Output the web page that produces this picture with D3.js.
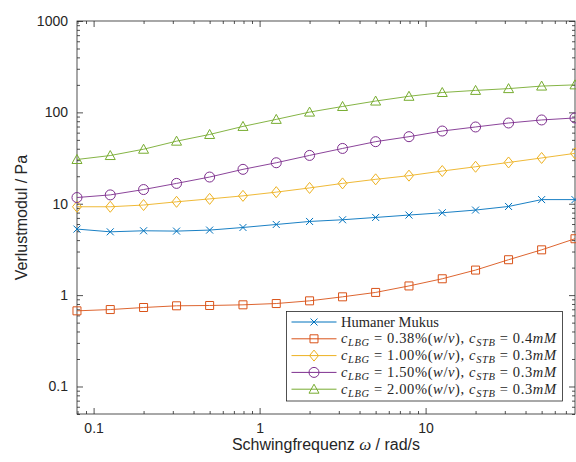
<!DOCTYPE html>
<html>
<head>
<meta charset="utf-8">
<script src="https://cdn.jsdelivr.net/npm/d3@7"></script>
<style>
  body { margin: 0; background: #fff; }
  text { fill: #262626; }
</style>
</head>
<body>
<div id="chart"></div>
<script>
// Schwingfrequenz (rad/s)
const freq = [0.0794, 0.126, 0.2, 0.316, 0.5, 0.794, 1.26, 2, 3.16, 5, 7.94, 12.6, 20, 31.6, 50, 79.4];

// Verlustmodul (Pa)
const humanerMukus = [5.28, 4.93, 5.06, 5.02, 5.15, 5.5, 5.93, 6.4, 6.68, 7.08, 7.52, 7.97, 8.53, 9.34, 11.1, 11.1];
const lbg038 = [0.673, 0.695, 0.732, 0.764, 0.77, 0.783, 0.809, 0.866, 0.958, 1.07, 1.26, 1.51, 1.88, 2.44, 3.13, 4.14];
const lbg100 = [9.27, 9.27, 9.68, 10.5, 11.3, 12.2, 13.4, 14.9, 16.7, 18.5, 20.3, 22.8, 25.4, 28.3, 31.7, 35.6];
const lbg150 = [11.7, 12.5, 14.3, 16.7, 19.6, 23.8, 28.1, 33.8, 40.3, 47.8, 54.2, 62.5, 69.2, 76.5, 82.6, 86.9];
const lbg200 = [30.5, 33.7, 39.5, 48.4, 57.3, 70.2, 83.8, 100.7, 116, 133, 150, 165, 174, 182, 194, 200];

// legend parts
const lbgConc = ["0.38", "1.00", "1.50", "2.00"];
const stbConc = ["0.4", "0.3", "0.3", "0.3"];

const xTicks = [0.1, 1, 10];
const yTicks = [0.1, 1, 10, 100, 1000];

const series = [
  { name: "Humaner Mukus", values: humanerMukus, color: "#0072BD", marker: "x" },
  { name: "lbg", values: lbg038, color: "#D95319", marker: "square", conc: 0 },
  { name: "lbg", values: lbg100, color: "#EDB120", marker: "diamond", conc: 1 },
  { name: "lbg", values: lbg150, color: "#7E2F8E", marker: "circle", conc: 2 },
  { name: "lbg", values: lbg200, color: "#77AC30", marker: "triangle", conc: 3 }
];

var w = 576;
var h = 462;
var margin = { top: 21, right: 1, bottom: 48, left: 77 };
var width = w - margin.left - margin.right;
var height = h - margin.top - margin.bottom;

var svg = d3.select("#chart").append("svg")
  .attr("width", w)
  .attr("height", h)
  .style("font-family", "'Liberation Sans', Arial, sans-serif");

var chart = svg.append("g")
  .attr("transform", "translate(" + margin.left + "," + margin.top + ")");

var x = d3.scaleLog()
  .domain([Math.pow(10, -1.1), Math.pow(10, 1.9)])
  .range([0, width]);

var y = d3.scaleLog()
  .domain([0.05, 1000])
  .range([height, 0]);

// minor ticks (2..9 of every decade inside the domain)
function minorTicks(scale) {
  const d = scale.domain();
  const out = [];
  for (let e = -3; e <= 4; e++) {
    for (let m = 2; m <= 9; m++) {
      const v = m * Math.pow(10, e);
      if (v >= d[0] && v <= d[1]) out.push(v);
    }
  }
  return out;
}

///////////////////////////// Axes

const axisColor = "#262626";

function styleAxis(g) {
  g.select(".domain").remove();
  g.selectAll("line").attr("stroke", axisColor).attr("stroke-width", 0.8);
  g.selectAll("text").style("font-size", "14px").attr("fill", axisColor);
}

chart.append("g")
  .attr("transform", "translate(0," + height + ")")
  .call(d3.axisBottom(x).tickValues(xTicks).tickSize(-6).tickPadding(9)
    .tickFormat(d => d3.format("~g")(d)))
  .call(styleAxis);
chart.append("g")
  .attr("transform", "translate(0," + height + ")")
  .call(d3.axisBottom(x).tickValues(minorTicks(x)).tickSize(-3).tickFormat(""))
  .call(styleAxis);
chart.append("g")
  .call(d3.axisTop(x).tickValues(xTicks).tickSize(-6).tickFormat(""))
  .call(styleAxis);
chart.append("g")
  .call(d3.axisTop(x).tickValues(minorTicks(x)).tickSize(-3).tickFormat(""))
  .call(styleAxis);

chart.append("g")
  .call(d3.axisLeft(y).tickValues(yTicks).tickSize(-6).tickPadding(9)
    .tickFormat(d => d3.format("~g")(d)))
  .call(styleAxis);
chart.append("g")
  .call(d3.axisLeft(y).tickValues(minorTicks(y)).tickSize(-3).tickFormat(""))
  .call(styleAxis);
chart.append("g")
  .attr("transform", "translate(" + width + ",0)")
  .call(d3.axisRight(y).tickValues(yTicks).tickSize(-6).tickFormat(""))
  .call(styleAxis);
chart.append("g")
  .attr("transform", "translate(" + width + ",0)")
  .call(d3.axisRight(y).tickValues(minorTicks(y)).tickSize(-3).tickFormat(""))
  .call(styleAxis);

// box
chart.append("rect")
  .attr("x", 0).attr("y", 0)
  .attr("width", width).attr("height", height)
  .attr("fill", "none")
  .attr("stroke", axisColor)
  .attr("stroke-width", 0.8);

///////////////////////////// Markers

function markerPath(type) {
  switch (type) {
    case "x": return "M-3.5,-3.5L3.5,3.5M-3.5,3.5L3.5,-3.5";
    case "square": return "M-4,-4H4V4H-4Z";
    case "diamond": return "M0,-5.5L4.5,0L0,5.5L-4.5,0Z";
    case "circle": return "M5,0A5,5 0 1,1 -5,0A5,5 0 1,1 5,0Z";
    case "triangle": return "M0,-5L5,4H-5Z";
  }
}

var line = d3.line()
  .x((d, i) => x(freq[i]))
  .y(d => y(d));

series.forEach(s => {
  chart.append("path")
    .datum(s.values)
    .attr("fill", "none")
    .attr("stroke", s.color)
    .attr("stroke-width", 0.9)
    .attr("d", line);

  chart.selectAll(null)
    .data(s.values)
    .enter().append("path")
    .attr("transform", (d, i) => "translate(" + x(freq[i]) + "," + y(d) + ")")
    .attr("d", markerPath(s.marker))
    .attr("fill", "none")
    .attr("stroke", s.color)
    .attr("stroke-width", 1);
});

///////////////////////////// Axis titles

svg.append("text")
  .attr("transform", "translate(27," + (margin.top + height / 2) + ") rotate(-90)")
  .attr("text-anchor", "middle")
  .style("font-size", "16px")
  .text("Verlustmodul / Pa");

var xTitle = svg.append("text")
  .attr("x", margin.left + width / 2)
  .attr("y", 450)
  .attr("text-anchor", "middle")
  .style("font-size", "16px");
xTitle.append("tspan").text("Schwingfrequenz ");
xTitle.append("tspan")
  .style("font-family", "'Liberation Serif', serif")
  .style("font-style", "italic")
  .style("font-size", "17px")
  .text("ω");
xTitle.append("tspan").text(" / rad/s");

///////////////////////////// Legend

var lx = 286.5, ly = 311.5, lw = 276, lh = 89.5;
var legend = svg.append("g");
legend.append("rect")
  .attr("x", lx).attr("y", ly)
  .attr("width", lw).attr("height", lh)
  .attr("fill", "#fff")
  .attr("stroke", axisColor)
  .attr("stroke-width", 0.8);

series.forEach((s, i) => {
  const cy = 322 + i * 16.8;
  legend.append("line")
    .attr("x1", 291.5).attr("x2", 336.5)
    .attr("y1", cy).attr("y2", cy)
    .attr("stroke", s.color).attr("stroke-width", 1);
  legend.append("path")
    .attr("transform", "translate(314," + cy + ")")
    .attr("d", markerPath(s.marker))
    .attr("fill", "none")
    .attr("stroke", s.color)
    .attr("stroke-width", 1);

  const t = legend.append("text")
    .attr("x", 341)
    .attr("y", cy + 4.5)
    .style("font-family", "'Liberation Serif', 'DejaVu Serif', serif")
    .style("font-size", "14.5px");

  if (s.marker === "x") {
    t.text(s.name);
    return;
  }
  t.attr("textLength", 215).attr("lengthAdjust", "spacing");
  const it = (txt) => t.append("tspan").style("font-style", "italic").text(txt);
  const sub = (txt) => t.append("tspan").attr("dy", 3).style("font-style", "italic").style("font-size", "10.5px").text(txt);
  const rm = (txt, dy) => t.append("tspan").attr("dy", dy || 0).text(txt);

  it("c"); sub("LBG");
  rm(" = " + lbgConc[s.conc] + "%(", -3); it("w"); rm("/"); it("v"); rm("), ");
  it("c"); sub("STB");
  rm(" = " + stbConc[s.conc], -3); it("mM");
});
</script>
</body>
</html>
